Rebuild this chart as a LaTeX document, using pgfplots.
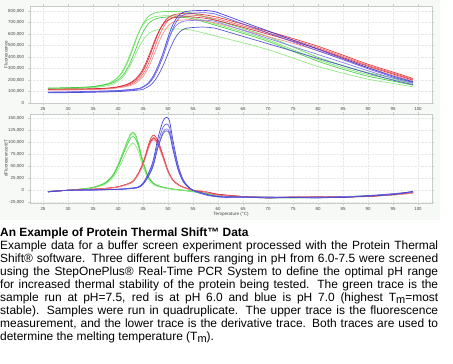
\documentclass[border=0pt]{standalone}
\usepackage{pgfplots}
\pgfplotsset{compat=1.18}
\usepackage{fontspec}
\setmainfont{Liberation Sans}
\definecolor{bgc}{RGB}{247,249,247}
\definecolor{framec}{RGB}{200,204,200}
\definecolor{gridc}{RGB}{232,234,232}
\definecolor{tickc}{RGB}{70,70,70}
\definecolor{ga}{RGB}{80,215,70}
\definecolor{gb}{RGB}{115,230,100}
\definecolor{gc}{RGB}{60,200,60}
\definecolor{gd}{RGB}{135,232,120}
\definecolor{ra}{RGB}{228,40,40}
\definecolor{rb}{RGB}{240,95,95}
\definecolor{rc}{RGB}{215,30,55}
\definecolor{rd}{RGB}{245,135,135}
\definecolor{ba}{RGB}{50,50,215}
\definecolor{bb}{RGB}{95,85,232}
\definecolor{bc}{RGB}{125,115,240}
\definecolor{bd}{RGB}{70,70,205}
\pgfplotsset{
  tsbase/.style={
    scale only axis, width=402bp, anchor=south west,
    xmin=22.4, xmax=102.8,
    xtick={25,30,...,100},
    axis line style={framec},
    tick style={framec},
    tick align=outside, major tick length=1.6bp,
    grid=major, major grid style={gridc, densely dotted, line width=0.3pt},
    axis background/.style={fill=white},
    tick label style={font=\fontsize{4.4}{5}\selectfont, text=tickc},
    /pgf/number format/assume math mode=true,
    yticklabel style={xshift=-0.8bp},
    xticklabel style={yshift=0.3bp},
    every axis y label/.style={at={(axis description cs:-0.0597,0.5)}, rotate=90, anchor=center, font=\fontsize{4.6}{5}\selectfont, text=tickc},
    every axis plot/.append style={smooth, line width=0.7pt, no markers, opacity=0.9},
  }
}
\newcommand{\capline}[2]{\node[anchor=base west, inner sep=0pt, font=\fontsize{12}{13}\selectfont] at (0bp,#1bp) {\makebox[438bp][s]{#2}};}
\begin{document}
\begin{tikzpicture}
\path[use as bounding box] (0bp,0bp) rectangle (453bp,364bp);
\fill[bgc] (0bp,144bp) rectangle (440bp,364bp);
% ---------------- upper: fluorescence ----------------
\begin{axis}[tsbase, at={(30bp,261bp)}, height=97bp,
  ymin=0, ymax=843,
  ytick={0,100,200,300,400,500,600,700,800},
  yticklabels={0,{100,000},{200,000},{300,000},{400,000},{500,000},{600,000},{700,000},{800,000}},
  ylabel={Fluorescence}]
\addplot[ga] coordinates {(26,128)(30,131)(34,138)(36,148)(38,168)(39,188)(40,222)(41,275)(42,362)(43,475)(44,596)(45,689)(46,749)(47,776)(48,789)(50,796)(53,792)(55,780)(60,714)(65,648)(70,577)(75,487)(80,397)(85,326)(90,263)(95,218)(99,182)};
\addplot[gb] coordinates {(26,125)(30,128)(34,135)(36,144)(37.7,163)(38.7,182)(39.7,214)(40.7,264)(41.7,347)(42.7,455)(43.7,569)(44.7,658)(45.7,715)(46.7,740)(47.7,753)(50,759)(53,755)(55,744)(60,681)(65,618)(70,549)(75,463)(80,377)(85,308)(90,247)(95,204)(99,170)};
\addplot[gc] coordinates {(26,130)(30,133)(34,139)(36,149)(38.4,167)(39.4,186)(40.4,216)(41.4,266)(42.4,346)(43.4,451)(44.4,562)(45.4,648)(46.4,704)(47.4,728)(48.4,741)(50,747)(53,743)(55,732)(60,669)(65,605)(70,536)(75,449)(80,363)(85,293)(90,233)(95,190)(99,155)};
\addplot[gd] coordinates {(26,122)(30,125)(34,130)(36,138)(38.2,153)(39.2,169)(40.2,195)(41.2,237)(42.2,305)(43.2,393)(44.2,487)(45.2,560)(46.2,607)(47.2,628)(48.2,639)(50,644)(53,641)(55,631)(60,577)(65,523)(70,464)(75,391)(80,317)(85,259)(90,207)(95,170)(99,141)};
\addplot[ra] coordinates {(26,118)(30,119)(34,121)(37.8,128)(39.8,138)(41.8,158)(42.8,178)(43.8,211)(44.8,264)(45.8,350)(46.8,462)(47.8,581)(48.8,674)(49.8,734)(50.8,760)(51.8,773)(54,780)(57,768)(60,744)(65,685)(70,623)(75,560)(80,493)(85,416)(90,337)(95,269)(99,213)};
\addplot[rb] coordinates {(26,115)(30,116)(34,118)(37.8,125)(39.8,135)(42.1,154)(43.1,174)(44.1,206)(45.1,258)(46.1,343)(47.1,453)(48.1,570)(49.1,661)(50.1,720)(51.1,746)(52.1,759)(54.2,765)(57,753)(60,729)(65,671)(70,610)(75,548)(80,481)(85,405)(90,327)(95,260)(99,205)};
\addplot[rc] coordinates {(26,120)(30,121)(34,123)(37.8,129)(39.8,139)(41.5,158)(42.5,177)(43.5,208)(44.5,259)(45.5,341)(46.5,448)(47.5,561)(48.5,649)(49.5,706)(50.5,731)(51.5,744)(54,750)(57,739)(60,715)(65,658)(70,598)(75,536)(80,471)(85,395)(90,319)(95,252)(99,198)};
\addplot[rd] coordinates {(26,112)(30,113)(34,115)(37.8,121)(39.8,130)(42.3,149)(43.3,167)(44.3,198)(45.3,247)(46.3,327)(47.3,431)(48.3,541)(49.3,627)(50.3,682)(51.3,707)(52.3,719)(54.5,725)(57.2,714)(60,691)(65,635)(70,577)(75,518)(80,454)(85,381)(90,307)(95,242)(99,190)};
\addplot[ba] coordinates {(26,92)(30,94)(34,98)(40,106)(44,124)(45,142)(46,170)(47,227)(48,320)(49,434)(50,570)(51,684)(52,755)(53,787)(54,798)(57,805)(59,797)(60,785)(65,705)(70,626)(75,546)(80,467)(85,387)(90,307)(95,234)(99,185)};
\addplot[bb] coordinates {(26,95)(30,97)(34,101)(40,109)(44.2,126)(45.2,143)(46.2,171)(47.2,226)(48.2,316)(49.2,426)(50.2,557)(51.2,668)(52.2,737)(53.2,768)(54.2,778)(57,785)(59,777)(60,765)(65,687)(70,609)(75,531)(80,454)(85,376)(90,298)(95,226)(99,178)};
\addplot[bc] coordinates {(26,90)(30,92)(34,95)(40,103)(43.7,118)(44.7,134)(45.7,159)(46.7,210)(47.7,292)(48.7,392)(49.7,512)(50.7,613)(51.7,676)(52.7,704)(53.7,714)(57,720)(59,713)(60,702)(65,632)(70,562)(75,491)(80,421)(85,351)(90,280)(95,215)(99,172)};
\addplot[bd] coordinates {(26,88)(30,90)(34,93)(40,99)(44.4,114)(45.4,128)(46.4,151)(47.4,197)(48.4,271)(49.4,363)(50.4,471)(51.4,563)(52.4,620)(53.4,646)(54.4,654)(57,660)(59,653)(60,643)(65,579)(70,515)(75,451)(80,387)(85,323)(90,259)(95,199)(99,160)};
\end{axis}
% ---------------- lower: derivative ----------------
\begin{axis}[tsbase, at={(30bp,161bp)}, height=89bp,
  ymin=-26.5, ymax=159,
  ytick={-25,0,25,50,75,100,125,150},
  yticklabels={{-25,000},0,{25,000},{50,000},{75,000},{100,000},{125,000},{150,000}},
  ylabel={dFluorescence/dT},
  xlabel={Temperature (°C)},
  every axis x label/.style={at={(axis description cs:0.5,0)}, anchor=center, yshift=-11bp, font=\fontsize{4.6}{5}\selectfont, text=tickc}]
\addplot[ga] coordinates {(26,-3)(28,-1.2)(30,0)(33,3)(35,6)(37,13.3)(38,20.6)(39,32.7)(40,53.2)(41,79.9)(42,106.5)(42.6,118.6)(43,121)(43.5,116.2)(44,101.6)(44.5,81.1)(45,60.5)(46,30.3)(47,15.7)(48,9.7)(50,4.2)(52,1.2)(55,-3)(58,-8)(60,-10)(65,-13)(70,-15)(75,-15)(80,-15)(85,-14)(90,-12)(95,-9)(99,-5)};
\addplot[gb] coordinates {(26,-3)(28,-1.2)(30,0)(33,3)(35,5.9)(37,13)(38,20)(39,31.9)(40,51.9)(41,77.9)(42,103.8)(42.6,115.6)(43,118)(43.5,113.3)(44,99.1)(44.5,79.1)(45,59)(46,29.5)(47,15.3)(48,9.4)(50,4.1)(52,1.2)(55,-3)(58,-9)(60,-11)(65,-14)(70,-16)(75,-15)(80,-14)(85,-13)(90,-11)(95,-8)(99,-4)};
\addplot[gc] coordinates {(26,-2.5)(28,-1.1)(30,0)(33,2.8)(35,5.6)(37,12.3)(38,19)(39,30.2)(40,49.3)(41,73.9)(42,98.6)(42.6,109.8)(43,112)(43.5,107.5)(44,94.1)(44.5,75)(45,56)(46,28)(47,14.6)(48,9)(50,3.9)(52,1.1)(55,-2)(58,-7)(60,-10)(65,-14)(70,-15)(75,-16)(80,-15)(85,-15)(90,-12)(95,-9)(99,-5)};
\addplot[gd] coordinates {(26,-3.5)(28,-1)(30,0)(33,2.5)(35,4.9)(37,10.8)(38,16.7)(39,26.5)(40,43.1)(41,64.7)(42,86.2)(42.6,96)(43,98)(43.5,94.1)(44,82.3)(44.5,65.7)(45,49)(46,24.5)(47,12.7)(48,7.8)(50,3.4)(52,1)(55,-2)(58,-8)(60,-11)(65,-13)(70,-14)(75,-15)(80,-16)(85,-14)(90,-12)(95,-10)(99,-6)};
\addplot[ra] coordinates {(26,-3)(30,0)(35,2.3)(38,4.6)(40,7.5)(42,13.8)(43,19.6)(44,34.5)(45,57.5)(46,92)(46.6,109.3)(47.2,115)(48,103.5)(49,73.6)(50,41.4)(51,21.9)(52,12.7)(53,6.9)(55,0)(57,-3)(58,-4)(60,-9)(65,-13)(70,-15)(75,-14)(80,-14)(85,-14)(90,-13)(95,-9)(99,-5)};
\addplot[rb] coordinates {(26,-3)(30,0)(35,2.2)(38,4.4)(40,7.2)(42,13.2)(43,18.7)(44,33)(45,55)(46,88)(46.6,104.5)(47.2,110)(48,99)(49,70.4)(50,39.6)(51,20.9)(52,12.1)(53,6.6)(55,0)(57,-2)(58,-5)(60,-9)(65,-14)(70,-15)(75,-15)(80,-13)(85,-14)(90,-12)(95,-8)(99,-4)};
\addplot[rc] coordinates {(26,-2.5)(30,0)(35,2.2)(38,4.3)(40,7)(42,13)(43,18.4)(44,32.4)(45,54)(46,86.4)(46.6,102.6)(47.2,108)(48,97.2)(49,69.1)(50,38.9)(51,20.5)(52,11.9)(53,6.5)(55,0.5)(57,-3)(58,-4)(60,-8)(65,-13)(70,-16)(75,-14)(80,-15)(85,-13)(90,-13)(95,-9)(99,-5)};
\addplot[rd] coordinates {(26,-3.5)(30,0)(35,2.1)(38,4.2)(40,6.8)(42,12.6)(43,17.9)(44,31.5)(45,52.5)(46,84)(46.6,99.8)(47.2,105)(48,94.5)(49,67.2)(50,37.8)(51,20)(52,11.6)(53,6.3)(55,0)(57,-2)(58,-5)(60,-10)(65,-13)(70,-14)(75,-15)(80,-14)(85,-14)(90,-12)(95,-10)(99,-6)};
\addplot[ba] coordinates {(26,-3)(30,0)(35,0.8)(40,2.3)(42,3.8)(44,6.8)(45,15.2)(46,33.4)(47,60.8)(48,109.4)(49,144.4)(49.7,152)(50.3,144.4)(51,103.4)(52,53.2)(53,22.8)(54,8.4)(55,0)(56,-4)(57,-7)(58,-10)(60,-13)(62,-14)(65,-14)(70,-15)(75,-15)(80,-15)(85,-14)(90,-12)(95,-8)(99,-3)};
\addplot[bb] coordinates {(26,-3)(30,0)(35,0.7)(40,2.1)(42,3.5)(44,6.2)(45,13.8)(46,30.4)(47,55.2)(48,99.4)(49,131.1)(49.7,138)(50.3,131.1)(51,93.8)(52,48.3)(53,20.7)(54,7.6)(55,0)(56,-5)(57,-8)(58,-11)(60,-14)(62,-15)(65,-14)(70,-14)(75,-15)(80,-16)(85,-14)(90,-11)(95,-7)(99,-3)};
\addplot[bc] coordinates {(26,-2.5)(30,0)(35,0.6)(40,1.9)(42,3.2)(44,5.8)(45,12.8)(46,28.2)(47,51.2)(48,92.2)(49,121.6)(49.7,128)(50.3,121.6)(51,87)(52,44.8)(53,19.2)(54,7)(55,0)(56,-4)(57,-7)(58,-10)(60,-12)(62,-13)(65,-15)(70,-15)(75,-14)(80,-15)(85,-13)(90,-12)(95,-8)(99,-4)};
\addplot[bd] coordinates {(26,-3.5)(30,0)(35,0.6)(40,1.9)(42,3.1)(44,5.6)(45,12.4)(46,27.3)(47,49.6)(48,89.3)(49,117.8)(49.7,124)(50.3,117.8)(51,84.3)(52,43.4)(53,18.6)(54,6.8)(55,0)(56,-3)(57,-6)(58,-9)(60,-13)(62,-14)(65,-14)(70,-16)(75,-15)(80,-14)(85,-15)(90,-12)(95,-9)(99,-2)};
\end{axis}
% ---------------- caption ----------------
\node[anchor=base west, inner sep=0pt, font=\fontsize{12}{13}\selectfont\bfseries] at (0bp,127.3bp) {An Example of Protein Thermal Shift™ Data};
\capline{114.7}{Example data for a buffer screen experiment processed with the Protein Thermal}
\capline{101.7}{Shift® software. Three different buffers ranging in pH from 6.0-7.5 were screened}
\capline{88.7}{using the StepOnePlus® Real-Time PCR System to define the optimal pH range}
\capline{75.7}{for increased thermal stability of the protein being tested. The green trace is the}
\capline{62.7}{sample run at pH=7.5, red is at pH 6.0 and blue is pH 7.0 (highest T\raisebox{-2.5bp}{\fontsize{11}{11}\selectfont m}=most}
\capline{49.7}{stable). Samples were run in quadruplicate. The upper trace is the fluorescence}
\capline{36.7}{measurement, and the lower trace is the derivative trace. Both traces are used to}
\node[anchor=base west, inner sep=0pt, font=\fontsize{12}{13}\selectfont] at (0bp,23.7bp) {determine the melting temperature (T\raisebox{-2.5bp}{\fontsize{11}{11}\selectfont m}).};
\end{tikzpicture}
\end{document}
